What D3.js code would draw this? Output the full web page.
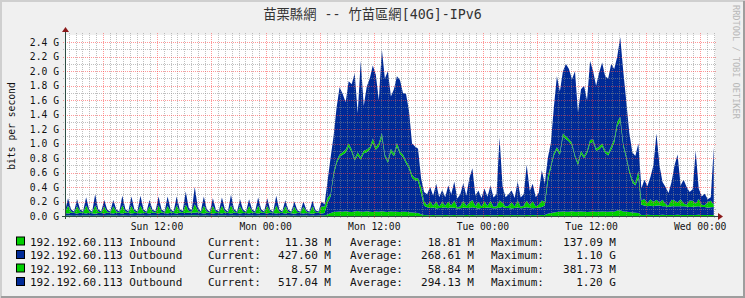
<!doctype html>
<html lang="zh-Hant">
<head>
<meta charset="utf-8">
<title>苗栗縣網 -- 竹苗區網[40G]-IPv6</title>
<script src="https://d3js.org/d3.v7.min.js"></script>
<style>
  body { margin: 0; background: #f0f0f0; }
  svg { display: block; font-family: "DejaVu Sans Mono", "Noto Sans CJK TC", monospace; }
</style>
</head>
<body>
<div id="chart"></div>
<script>
// Samples (Mbps), one every 20 minutes starting Sun 01:50 --------------------
const startTime = new Date(2024, 2, 3, 1, 50);
const endTime = new Date(2024, 2, 6, 1, 38);
const stepMinutes = 20;

const inbound1 = [
  5,6,6, 5,6,5, 6,7,6, 5,6,6, 5,5,6, 6,7,6, 5,6,6, 5,6,5, 6,7,6, 5,6,6,
  6,7,6, 5,6,5, 6,6,6, 5,8,7, 6,9,7, 5,6,6, 5,6,5, 6,7,6, 5,6,6, 5,6,5,
  6,7,6, 5,6,6, 6,7,6, 5,6,5, 6,6,6, 5,6,5, 5,6,6, 5,6,5, 6,7,
  8,20,40,55,60,62,58,65,60,55,62,70,58,60,66,60,55,62,58,65,60,55,62,58,60,55,60,58,52,50,45,40,25,15,12,
  12,13,12,11,12,13,12,12,14,12,11,12,13,12,14,12,12,11,12,13,12,12,11,15,13,12,12,13,12,14,12,12,13,12,14,12,12,14,15,
  30,40,50,55,60,62,58,60,65,60,58,62,60,55,60,62,58,60,62,60,58,62,60,75,80,62,58,55,50,45,40,
  15,14,16,15,15,14,15,16,15,14,15,15,16,15,14,15,15,14,15,16,15,14,15,15,14
];
const outbound1 = [
  36,28,38, 35,27,40, 37,29,38, 34,26,37, 36,28,39, 35,27,38, 37,30,40, 36,28,38, 35,27,37, 36,28,39,
  37,29,38, 35,27,40, 36,28,38, 38,32,42, 40,35,44, 36,28,38, 35,27,37, 36,28,39, 37,29,38, 35,27,37,
  36,28,38, 35,28,39, 36,27,38, 35,28,37, 36,29,38, 34,26,36, 35,27,37, 34,26,36, 35,27,
  32,160,230,505,665,758,787,810,900,830,703,770,722,805,814,860,960,853,902,1025,760,680,823,767,905,805,755,672,603,480,445,445,285,125,108,
  100,105,92,100,98,108,95,105,100,90,95,102,100,95,108,100,92,100,98,105,100,96,95,100,110,100,98,92,100,104,96,100,108,100,94,100,102,110,130,
  440,625,785,865,785,1033,1007,970,910,750,647,798,740,810,945,963,842,860,903,810,777,858,955,1165,1240,903,737,545,415,375,490,
  140,130,120,125,120,130,130,120,120,110,120,120,120,120,120,115,110,115,115,120,110,110,100,105,110
];
const inbound2 = [
  6,106,18, 5,100,16, 6,108,20, 5,112,18, 6,98,15, 5,102,17, 6,110,20, 5,108,18, 6,112,19, 5,100,16,
  6,108,18, 5,106,17, 6,110,20, 7,115,24, 8,118,26, 6,108,18, 5,104,16, 6,106,18, 6,112,20, 5,100,16,
  6,102,17, 5,106,18, 6,104,16, 5,110,19, 6,100,16, 5,96,15, 6,95,16, 5,98,15, 6,96,
  90,70,30,40,35,30,35,45,40,35,25,40,30,35,40,30,55,35,40,60,30,25,45,35,45,30,35,30,35,40,30,35,90,60,30,
  90,25,95,20,85,20,90,30,100,20,30,95,25,80,100,25,90,20,90,20,95,20,30,100,60,20,30,90,20,100,20,30,90,40,95,20,40,90,50,
  80,35,35,30,35,45,35,30,35,30,35,40,30,35,45,35,30,40,35,30,35,40,45,60,50,35,35,40,35,30,90,
  60,90,40,90,60,80,40,90,30,20,90,80,50,95,40,25,90,80,40,100,30,25,80,90,30
];
const outbound2 = [
  14,106,28, 16,99,30, 15,116,26, 14,157,32, 15,91,27, 16,86,29, 14,132,30, 15,126,28, 16,132,31, 14,88,26,
  15,124,29, 16,129,28, 15,124,30, 18,183,40, 22,238,45, 15,126,29, 14,109,27, 16,114,30, 15,145,32, 14,99,27,
  15,95,28, 16,117,30, 14,108,27, 15,134,31, 14,82,25, 13,71,24, 14,71,25, 13,80,24, 14,69,
  30,230,500,500,740,930,810,650,860,900,1180,540,1330,620,870,950,1010,1000,600,1150,1050,1240,720,890,920,990,850,930,760,430,440,410,120,130,150,
  198,138,248,128,165,118,223,153,258,118,163,243,143,333,438,143,158,118,180,128,213,128,163,868,228,128,160,158,118,258,128,158,498,198,243,128,168,418,255,
  250,310,630,980,840,860,1000,970,880,1160,690,850,970,700,1090,940,870,1020,1120,1030,1030,1140,970,900,1100,1000,750,510,380,380,380,
  165,265,235,310,505,915,515,245,235,175,245,485,665,190,325,245,115,160,730,145,115,160,35,50,795
];

const seriesKeys = ["in1", "out1", "in2", "out2"];
const seriesColors = ["#00CF00", "#002A97", "#00CF00", "#002A97"];

const yTickValues = [0, 200, 400, 600, 800, 1000, 1200, 1400, 1600, 1800, 2000, 2200, 2400];

const legendNames = ["192.192.60.113 Inbound", "192.192.60.113 Outbound", "192.192.60.113 Inbound", "192.192.60.113 Outbound"];
const legendCurrent = ["11.38 M", "427.60 M", "8.57 M", "517.04 M"];
const legendAverage = ["18.81 M", "268.61 M", "58.84 M", "294.13 M"];
const legendMaximum = ["137.09 M", "1.10 G", "381.73 M", "1.20 G"];

const titleText = "苗栗縣網 -- 竹苗區網[40G]-IPv6";

// Layout ----------------------------------------------------------------------
const width = 745;
const height = 298;
const plot = { left: 65, right: 715, top: 35, bottom: 216 };

const rows = inbound1.map((v, i) => ({
  time: new Date(startTime.getTime() + i * stepMinutes * 60000),
  in1: v,
  out1: outbound1[i],
  in2: inbound2[i],
  out2: outbound2[i]
}));

const x = d3.scaleTime().domain([startTime, endTime]).range([plot.left, plot.right]);
const y = d3.scaleLinear().domain([0, 2500]).range([plot.bottom, plot.top]);

const svg = d3.select("#chart").append("svg")
  .attr("width", width)
  .attr("height", height);

// Background and frame
svg.append("rect").attr("width", width).attr("height", height).attr("fill", "#f0f0f0");
svg.append("path").attr("d", `M1,${height} V1 H${width}`)
  .attr("fill", "none").attr("stroke", "#cfcfcf").attr("stroke-width", 2);
svg.append("path").attr("d", `M${width - 1},1 V${height - 1} H1`)
  .attr("fill", "none").attr("stroke", "#9e9e9e").attr("stroke-width", 2);

svg.append("rect")
  .attr("x", plot.left).attr("y", plot.top)
  .attr("width", plot.right - plot.left).attr("height", plot.bottom - plot.top)
  .attr("fill", "#ffffff");

// Stacked areas ----------------------------------------------------------------
const stacked = d3.stack().keys(seriesKeys)(rows);
const area = d3.area()
  .x(d => x(d.data.time))
  .y0(d => y(d[0]))
  .y1(d => y(d[1]));

svg.append("g").selectAll("path")
  .data(stacked)
  .join("path")
  .attr("d", area)
  .attr("fill", (d, i) => seriesColors[i]);

// Grid -------------------------------------------------------------------------
const grid = svg.append("g").attr("shape-rendering", "crispEdges");
const dayStart = new Date(2024, 2, 3, 0, 0);
const minorTimes = d3.range(0, 80 * 60, 45)
  .map(m => new Date(dayStart.getTime() + m * 60000))
  .filter(t => t > startTime && t < endTime)
  .filter(t => (t.getHours() * 60 + t.getMinutes()) % 360 !== 0);
const majorTimes = d3.timeHour.every(6).range(startTime, endTime);
const labelTimes = d3.timeHour.every(12).range(startTime, endTime);

grid.selectAll(".vminor").data(minorTimes).join("line")
  .attr("x1", d => Math.round(x(d)) + 0.5).attr("x2", d => Math.round(x(d)) + 0.5)
  .attr("y1", plot.top - 2).attr("y2", plot.bottom + 2)
  .attr("stroke", "rgba(140,140,140,0.55)").attr("stroke-dasharray", "1,1");
grid.selectAll(".hminor").data(d3.range(100, 2500, 200)).join("line")
  .attr("x1", plot.left - 2).attr("x2", plot.right + 2)
  .attr("y1", d => Math.round(y(d)) + 0.5).attr("y2", d => Math.round(y(d)) + 0.5)
  .attr("stroke", "rgba(140,140,140,0.55)").attr("stroke-dasharray", "1,1");
grid.selectAll(".vmajor").data(majorTimes).join("line")
  .attr("x1", d => Math.round(x(d)) + 0.5).attr("x2", d => Math.round(x(d)) + 0.5)
  .attr("y1", plot.top - 2).attr("y2", plot.bottom + 2)
  .attr("stroke", "rgba(255,68,68,0.55)").attr("stroke-dasharray", "1,1");
grid.selectAll(".hmajor").data(yTickValues.slice(1)).join("line")
  .attr("x1", plot.left - 2).attr("x2", plot.right + 2)
  .attr("y1", d => Math.round(y(d)) + 0.5).attr("y2", d => Math.round(y(d)) + 0.5)
  .attr("stroke", "rgba(255,68,68,0.55)").attr("stroke-dasharray", "1,1");

// Axes and arrows ----------------------------------------------------------------
svg.append("line")
  .attr("x1", plot.left - 3).attr("x2", plot.right + 3)
  .attr("y1", plot.bottom + 0.5).attr("y2", plot.bottom + 0.5)
  .attr("stroke", "#2c4d43").attr("shape-rendering", "crispEdges");
svg.append("line")
  .attr("x1", plot.left + 0.5).attr("x2", plot.left + 0.5)
  .attr("y1", plot.bottom + 3).attr("y2", plot.top - 4)
  .attr("stroke", "#2c4d43").attr("shape-rendering", "crispEdges");
svg.append("path")
  .attr("d", `M${plot.right + 3},${plot.bottom - 3} L${plot.right + 8},${plot.bottom + 0.5} L${plot.right + 3},${plot.bottom + 4} Z`)
  .attr("fill", "#8b1a1a");
svg.append("path")
  .attr("d", `M${plot.left - 3},${plot.top - 3} L${plot.left + 0.5},${plot.top - 8} L${plot.left + 4},${plot.top - 3} Z`)
  .attr("fill", "#8b1a1a");

// Tick labels
svg.append("g").selectAll("text").data(yTickValues).join("text")
  .attr("x", 59).attr("y", d => y(d) + 3.5)
  .attr("text-anchor", "end")
  .attr("font-size", "9.7px").attr("fill", "#111")
  .text(d => d3.format(".1f")(d / 1000) + " G");

svg.append("g").selectAll("text").data(labelTimes).join("text")
  .attr("x", d => x(d)).attr("y", 229.5)
  .attr("text-anchor", "middle")
  .attr("font-size", "9.7px").attr("fill", "#111")
  .text(d3.timeFormat("%a %H:%M"));

// Titles -------------------------------------------------------------------------
svg.append("text")
  .attr("x", width / 2).attr("y", 19)
  .attr("text-anchor", "middle")
  .attr("font-size", "13.3px").attr("fill", "#333")
  .text(titleText);

svg.append("text")
  .attr("transform", "translate(15,126) rotate(-90)")
  .attr("text-anchor", "middle")
  .attr("font-size", "9.7px").attr("fill", "#111")
  .text("bits per second");

svg.append("text")
  .attr("transform", "translate(733,5) rotate(90)")
  .attr("font-size", "8.6px").attr("fill", "#b8b8b8")
  .text("RRDTOOL / TOBI OETIKER");

// Legend -------------------------------------------------------------------------
const legendRows = [241.5, 255, 268.5, 282];
const legend = svg.append("g").attr("font-size", "11px").attr("fill", "#111");
legendNames.forEach((name, i) => {
  const cy = legendRows[i];
  legend.append("rect")
    .attr("x", 16.5).attr("y", cy - 4.5).attr("width", 8).attr("height", 8)
    .attr("fill", seriesColors[i]).attr("stroke", "#000").attr("stroke-width", 1);
  legend.append("text").attr("x", 30).attr("y", cy + 4).text(name);
  legend.append("text").attr("x", 208).attr("y", cy + 4).text("Current:");
  legend.append("text").attr("x", 331).attr("y", cy + 4).attr("text-anchor", "end").text(legendCurrent[i]);
  legend.append("text").attr("x", 350).attr("y", cy + 4).text("Average:");
  legend.append("text").attr("x", 474).attr("y", cy + 4).attr("text-anchor", "end").text(legendAverage[i]);
  legend.append("text").attr("x", 491).attr("y", cy + 4).text("Maximum:");
  legend.append("text").attr("x", 616).attr("y", cy + 4).attr("text-anchor", "end").text(legendMaximum[i]);
});
</script>
</body>
</html>
